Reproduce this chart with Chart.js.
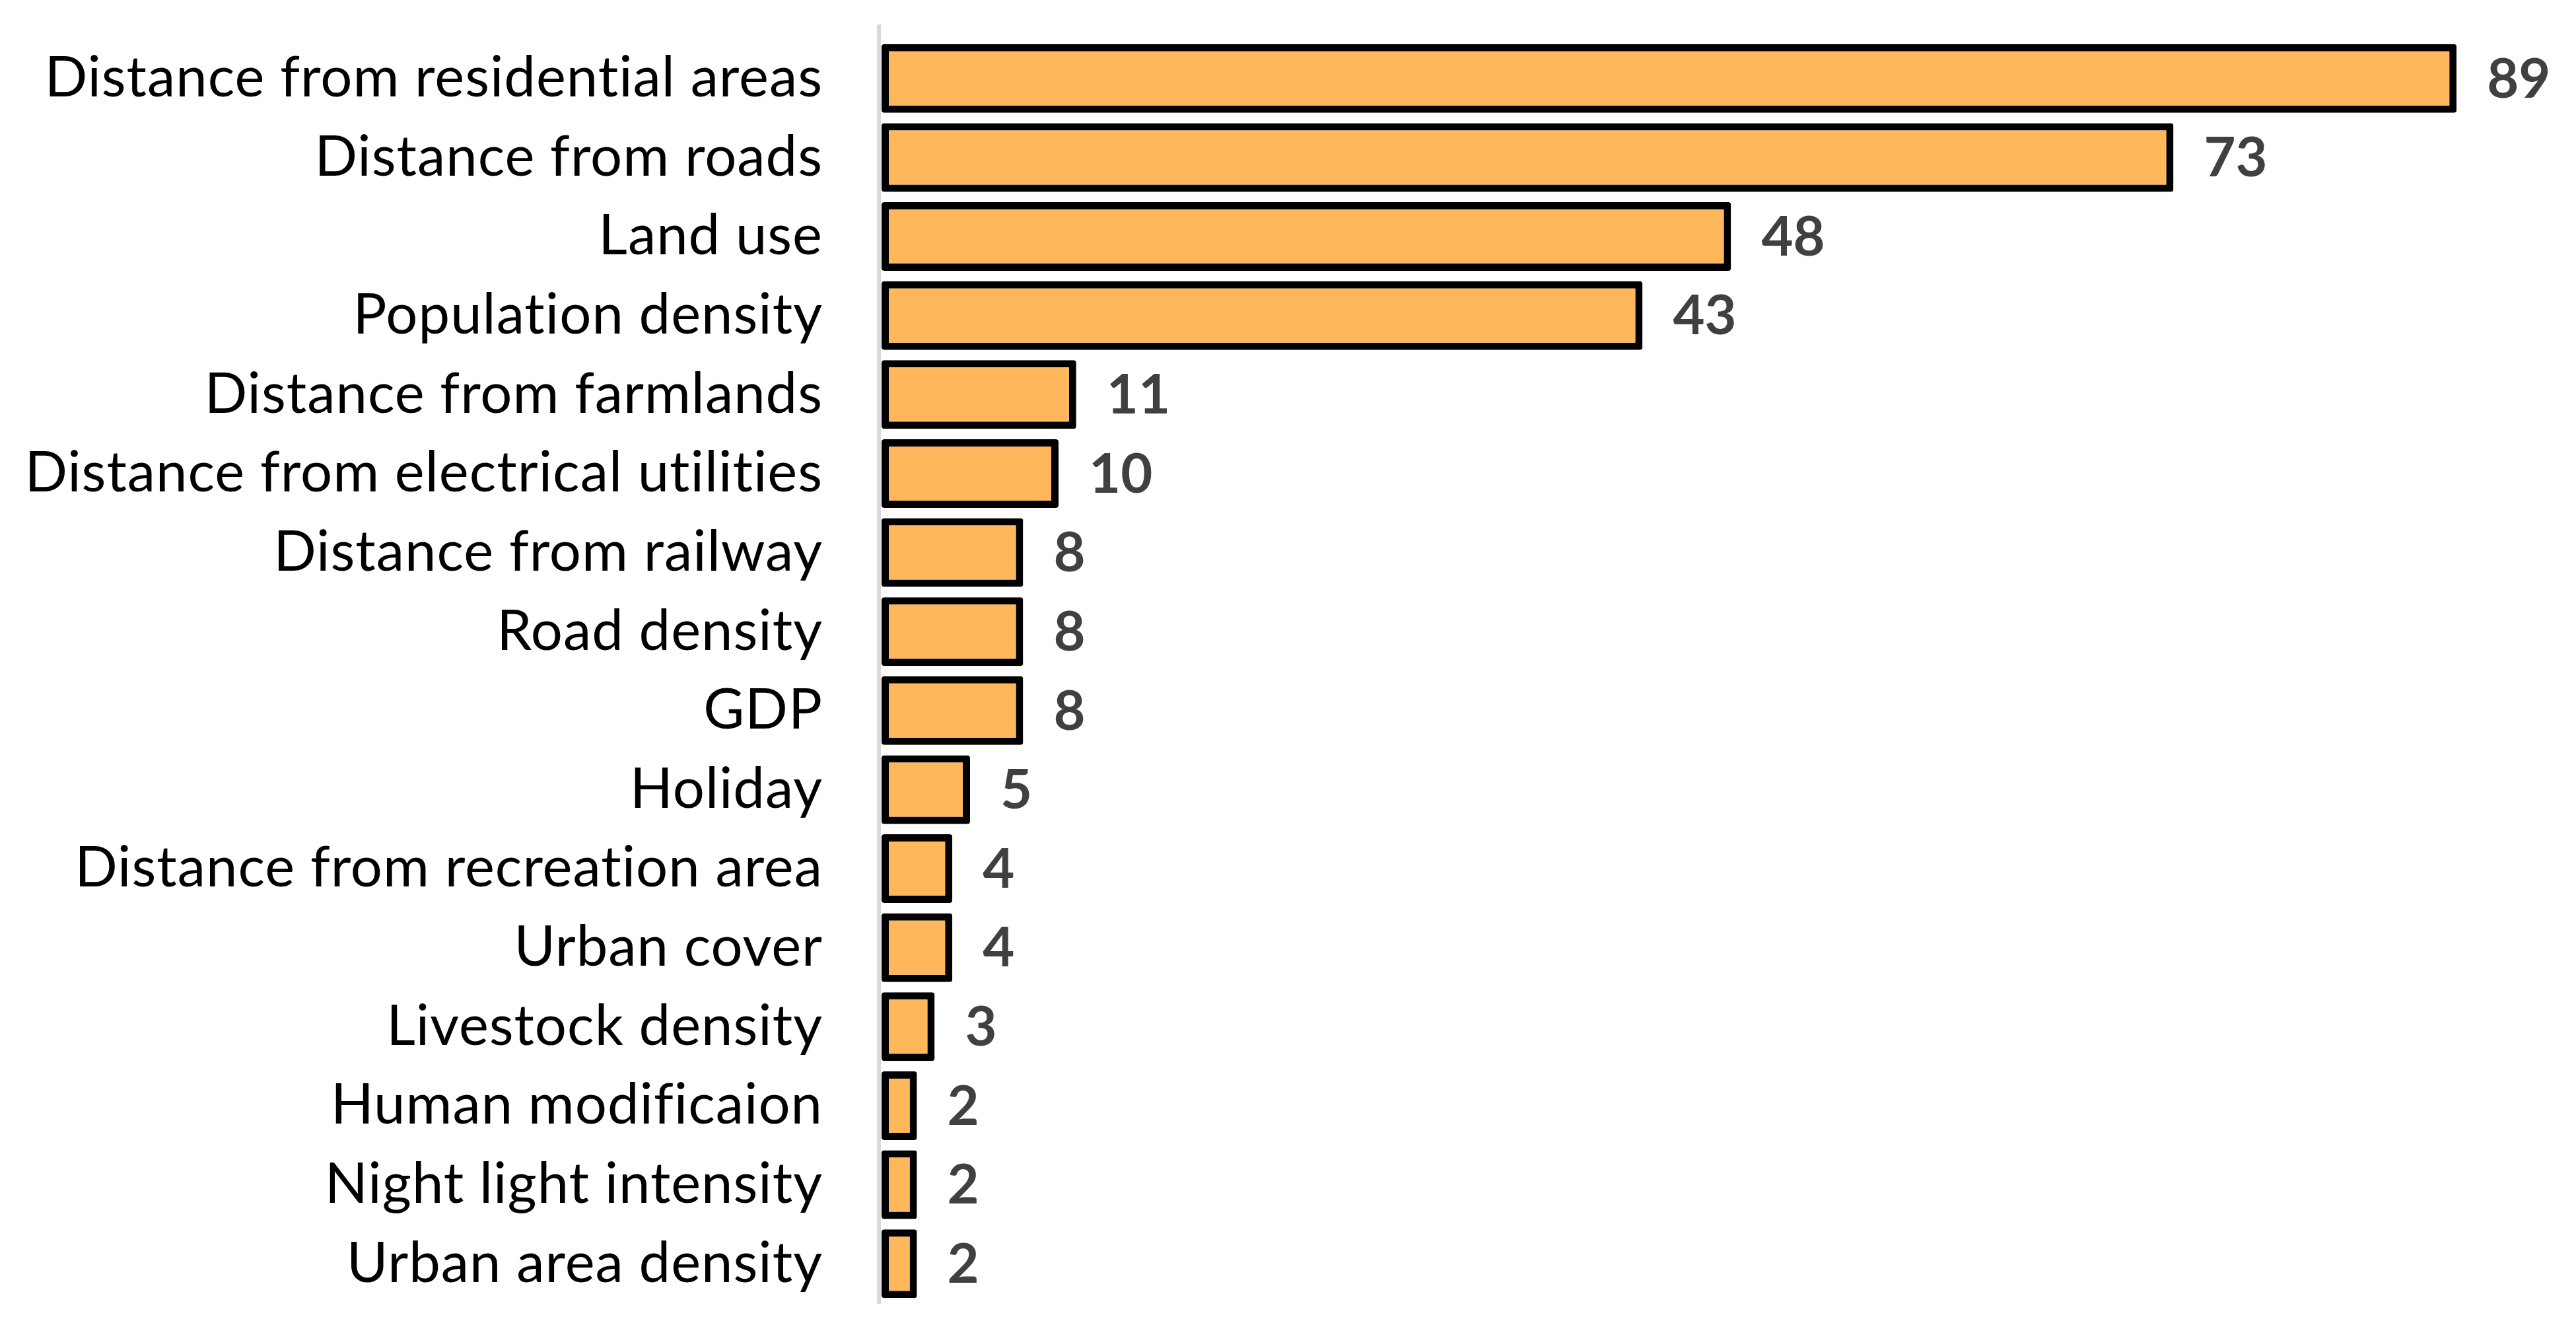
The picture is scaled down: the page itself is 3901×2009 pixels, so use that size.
<!DOCTYPE html>
<html>
<head>
<meta charset="utf-8">
<script src="https://cdn.jsdelivr.net/npm/chart.js@4/dist/chart.umd.min.js"></script>
<style>
html,body{margin:0;padding:0;background:#fff;}
#wrap{width:3901px;height:2009px;}
</style>
</head>
<body>
<div id="wrap"><canvas id="c" width="3901" height="2009"></canvas></div>
<script>
const categories = [
  "Distance from residential areas",
  "Distance from roads",
  "Land use",
  "Population density",
  "Distance from farmlands",
  "Distance from electrical utilities",
  "Distance from railway",
  "Road density",
  "GDP",
  "Holiday",
  "Distance from recreation area",
  "Urban cover",
  "Livestock density",
  "Human modificaion",
  "Night light intensity",
  "Urban area density"
];
const values = [89, 73, 48, 43, 11, 10, 8, 8, 8, 5, 4, 4, 3, 2, 2, 2];

const AXIS_LEFT = 1335;

const textSetupPlugin = {
  id: 'textSetup',
  beforeDraw(chart) {
    try { chart.ctx.letterSpacing = '1px'; } catch (e) {}
  }
};

const axisLinePlugin = {
  id: 'axisLine',
  beforeDatasetsDraw(chart) {
    const ctx = chart.ctx;
    const a = chart.chartArea;
    ctx.save();
    ctx.strokeStyle = '#d9d9d9';
    ctx.lineWidth = 6;
    ctx.beginPath();
    ctx.moveTo(a.left - 4, a.top - 22);
    ctx.lineTo(a.left - 4, a.bottom + 1);
    ctx.stroke();
    ctx.restore();
  }
};

const valueLabelPlugin = {
  id: 'valueLabels',
  afterDatasetsDraw(chart) {
    const ctx = chart.ctx;
    const meta = chart.getDatasetMeta(0);
    ctx.save();
    try { ctx.letterSpacing = '0px'; } catch (e) {}
    ctx.font = 'bold 83px Lato';
    ctx.fillStyle = '#404040';
    ctx.textAlign = 'left';
    ctx.textBaseline = 'middle';
    meta.data.forEach((bar, i) => {
      ctx.fillText(String(values[i]), bar.x + 46, bar.y + 2);
    });
    ctx.restore();
  }
};

new Chart(document.getElementById('c'), {
  type: 'bar',
  data: {
    labels: categories,
    datasets: [{
      data: values,
      backgroundColor: '#FFB75B',
      borderColor: '#000000',
      borderWidth: 11,
      borderSkipped: false,
      borderRadius: 4,
      barPercentage: 0.87,
      categoryPercentage: 1.0
    }]
  },
  options: {
    indexAxis: 'y',
    responsive: false,
    animation: false,
    devicePixelRatio: 1,
    layout: { padding: { top: 59, bottom: 36, left: 0, right: 154 } },
    plugins: { legend: { display: false }, tooltip: { enabled: false } },
    scales: {
      x: {
        display: false,
        min: 0,
        max: 90
      },
      y: {
        grid: { display: false, drawTicks: false },
        border: { display: false },
        ticks: {
          font: { family: 'Lato', size: 85 },
          color: '#000000',
          padding: 89
        },
        afterFit(scale) {
          scale.width = AXIS_LEFT;
          scale.paddingTop = 0;
          scale.paddingBottom = 0;
        }
      }
    }
  },
  plugins: [textSetupPlugin, axisLinePlugin, valueLabelPlugin]
});
</script>
</body>
</html>
